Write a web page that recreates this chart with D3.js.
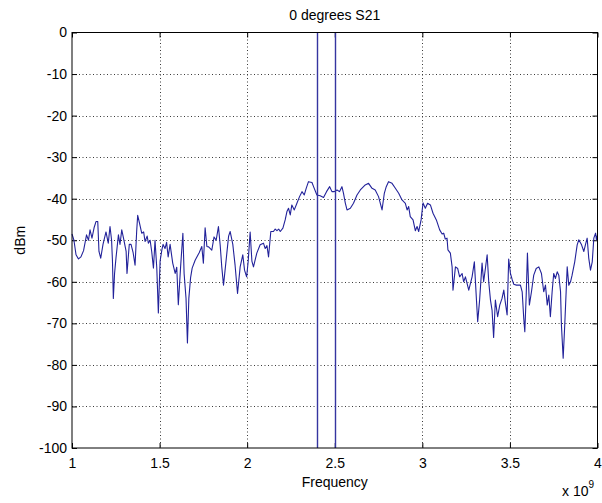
<!DOCTYPE html>
<html><head><meta charset="utf-8">
<script src="https://cdn.jsdelivr.net/npm/d3@7"></script>
<style>
body{margin:0;background:#fff}
svg text{font-family:"Liberation Sans",Arial,Helvetica,sans-serif;fill:#000}
</style>
</head><body>
<svg id="chart" width="602" height="503"></svg>
<script>
// Frequency in GHz (axis shown as x 10^9 Hz)
const freqGHz = [
1.000,1.011,1.023,1.037,1.051,1.066,1.083,1.094,1.103,1.114,1.126,1.137,1.147,1.154,1.164,1.177,1.194,1.207,1.217,1.226,
1.231,1.236,1.243,1.251,1.265,1.274,1.284,1.294,1.309,1.314,1.327,1.337,1.349,1.360,1.369,1.375,1.386,1.398,1.409,1.417,
1.429,1.436,1.446,1.455,1.465,1.474,1.484,1.493,1.503,1.513,1.520,1.531,1.540,1.549,1.560,1.575,1.589,1.598,1.607,1.620,
1.633,1.640,1.651,1.659,1.667,1.677,1.686,1.703,1.726,1.741,1.750,1.760,1.770,1.780,1.798,1.811,1.823,1.836,1.846,1.855,
1.865,1.884,1.894,1.903,1.918,1.931,1.945,1.960,1.975,1.985,1.997,2.006,2.017,2.027,2.036,2.055,2.074,2.093,2.103,2.113,
2.122,2.135,2.150,2.160,2.170,2.180,2.189,2.204,2.217,2.227,2.236,2.246,2.255,2.269,2.284,2.299,2.313,2.326,2.337,2.350,
2.370,2.379,2.398,2.417,2.436,2.453,2.471,2.484,2.497,2.513,2.527,2.541,2.550,2.560,2.570,2.589,2.607,2.627,2.646,2.660,
2.674,2.693,2.713,2.731,2.750,2.770,2.783,2.794,2.807,2.827,2.846,2.865,2.884,2.903,2.913,2.922,2.931,2.947,2.960,2.970,
2.979,2.993,3.004,3.017,3.030,3.046,3.061,3.080,3.099,3.113,3.122,3.131,3.141,3.146,3.160,3.170,3.175,3.189,3.202,3.213,
3.227,3.236,3.246,3.265,3.284,3.297,3.309,3.316,3.327,3.341,3.350,3.360,3.370,3.379,3.389,3.398,3.407,3.417,3.430,3.442,
3.455,3.465,3.474,3.484,3.493,3.503,3.513,3.522,3.537,3.560,3.570,3.579,3.585,3.593,3.600,3.611,3.623,3.636,3.650,3.665,
3.680,3.693,3.703,3.713,3.722,3.731,3.741,3.750,3.760,3.770,3.779,3.789,3.794,3.804,3.813,3.821,3.827,3.836,3.846,3.855,
3.870,3.884,3.893,3.909,3.922,3.931,3.941,3.950,3.960,3.970,3.979,3.989,3.994,4.000
];
const dBm = [
-48.5,-50.0,-53.5,-54.5,-54.0,-52.5,-48.7,-50.0,-47.5,-49.5,-47.0,-45.5,-45.5,-52.7,-54.3,-51.0,-48.0,-50.7,-46.7,-50.0,
-55.0,-64.0,-58.0,-54.3,-48.7,-51.0,-47.5,-49.5,-52.7,-58.0,-51.0,-51.0,-53.0,-56.0,-48.0,-44.0,-46.0,-48.3,-48.0,-50.3,
-49.0,-50.7,-50.0,-52.7,-56.7,-50.0,-56.7,-67.5,-55.0,-52.3,-51.0,-52.0,-50.5,-54.0,-51.0,-55.5,-58.0,-56.5,-65.5,-56.4,
-48.3,-58.0,-64.0,-74.7,-64.0,-59.0,-56.7,-54.8,-53.0,-51.5,-55.5,-47.0,-51.5,-51.6,-52.4,-49.2,-50.0,-46.7,-51.2,-56.4,
-60.8,-53.1,-49.0,-47.9,-51.0,-56.0,-62.8,-56.4,-53.5,-57.2,-58.8,-55.0,-48.0,-55.0,-56.4,-53.1,-51.1,-50.7,-52.0,-51.3,
-54.0,-47.9,-47.9,-47.3,-47.7,-47.3,-47.9,-47.1,-45.1,-43.1,-42.3,-43.9,-41.5,-42.7,-41.1,-39.5,-38.3,-39.1,-37.5,-35.9,
-36.1,-37.1,-39.1,-39.3,-39.7,-38.3,-37.1,-38.3,-38.3,-37.9,-38.3,-37.1,-38.7,-41.0,-42.7,-42.3,-41.1,-39.1,-37.9,-37.3,
-36.7,-36.3,-37.5,-37.9,-39.5,-42.7,-38.7,-37.1,-35.9,-36.3,-37.5,-38.7,-40.3,-41.1,-42.7,-41.9,-44.3,-45.1,-47.7,-46.7,
-47.9,-45.1,-41.0,-42.3,-41.1,-41.5,-43.5,-45.1,-47.5,-48.5,-48.3,-49.7,-49.5,-52.3,-53.1,-56.4,-62.0,-56.4,-56.8,-58.8,
-58.0,-60.0,-58.8,-62.0,-58.8,-55.2,-64.4,-69.6,-64.4,-55.5,-60.0,-56.8,-53.5,-60.0,-64.4,-66.8,-73.4,-64.4,-68.4,-65.6,
-64.0,-62.0,-65.0,-68.0,-54.5,-58.0,-59.5,-60.6,-60.8,-60.8,-62.4,-68.8,-72.0,-63.2,-53.1,-65.6,-62.4,-58.4,-56.8,-56.4,
-58.0,-62.4,-60.8,-65.6,-63.2,-68.4,-62.4,-58.0,-59.2,-57.6,-58.4,-62.4,-70.4,-78.4,-70.4,-62.4,-56.4,-60.8,-60.0,-58.4,
-55.2,-51.1,-49.9,-51.1,-52.7,-51.1,-49.5,-54.3,-57.2,-55.2,-49.5,-48.3,-49.9,-48.7
];
const markerGHz = [2.4, 2.5];
const xTicks = [1, 1.5, 2, 2.5, 3, 3.5, 4];
const xTickLabels = ["1", "1.5", "2", "2.5", "3", "3.5", "4"];
const yTicks = [-100, -90, -80, -70, -60, -50, -40, -30, -20, -10, 0];
const yTickLabels = ["-100", "-90", "-80", "-70", "-60", "-50", "-40", "-30", "-20", "-10", "0"];
const titleText = "0 degrees S21";
const xLabelText = "Frequency";
const yLabelText = "dBm";

const svg = d3.select("#chart");
const L = 72, R = 597.5, T = 32.5, B = 448;
const x = d3.scaleLinear().domain([1, 4]).range([L, R]);
const y = d3.scaleLinear().domain([-100, 0]).range([B, T]);
const px = v => Math.round(x(v)) + 0.5;
const py = v => Math.round(y(v)) + 0.5;

svg.append("rect").attr("width", 602).attr("height", 503).attr("fill", "#fff");

// grid
const grid = svg.append("g").attr("stroke", "#3a3a3a").attr("stroke-width", 1).attr("stroke-dasharray", "1,2.5");
grid.selectAll("line.gx").data(xTicks.slice(1, -1)).join("line").attr("class", "gx")
  .attr("x1", px).attr("x2", px).attr("y1", T).attr("y2", B);
grid.selectAll("line.gy").data(yTicks.slice(1, -1)).join("line").attr("class", "gy")
  .attr("y1", py).attr("y2", py).attr("x1", L).attr("x2", R);

// axes (inward ticks on all four sides)
const fmtX = d => xTickLabels[xTicks.indexOf(d)];
const fmtY = d => yTickLabels[yTicks.indexOf(d)];
const ax = svg.append("g").attr("transform", `translate(0,${B})`)
  .call(d3.axisBottom(x).tickValues(xTicks).tickFormat(fmtX).tickSize(-5).tickSizeOuter(0).tickPadding(10));
const at = svg.append("g").attr("transform", `translate(0,${T})`)
  .call(d3.axisTop(x).tickValues(xTicks).tickFormat("").tickSize(-5).tickSizeOuter(0));
const al = svg.append("g").attr("transform", `translate(${L},0)`)
  .call(d3.axisLeft(y).tickValues(yTicks).tickFormat(fmtY).tickSize(-5).tickSizeOuter(0).tickPadding(5));
const ar = svg.append("g").attr("transform", `translate(${R},0)`)
  .call(d3.axisRight(y).tickValues(yTicks).tickFormat("").tickSize(-5).tickSizeOuter(0));
[ax, at, al, ar].forEach(g => {
  g.select(".domain").remove();
  g.selectAll("line").attr("stroke", "#000");
  g.selectAll("text").attr("font-size", 14).attr("font-family", '"Liberation Sans",Arial,sans-serif').attr("fill", "#000");
});

// data line
const line = d3.line().x((d, i) => x(freqGHz[i])).y(d => y(d));
svg.append("path").datum(dBm).attr("d", line)
  .attr("fill", "none").attr("stroke", "#22229a").attr("stroke-width", 1.1).attr("stroke-linejoin", "round");

// marker lines
svg.selectAll("line.mk").data(markerGHz).join("line").attr("class", "mk")
  .attr("x1", px).attr("x2", px).attr("y1", T).attr("y2", B)
  .attr("stroke", "#3535a0").attr("stroke-width", 1.4);

// box
svg.append("rect").attr("x", L).attr("y", T).attr("width", R - L).attr("height", B - T)
  .attr("fill", "none").attr("stroke", "#000").attr("stroke-width", 1);

// labels
svg.append("text").attr("x", (L + R) / 2).attr("y", 20).attr("text-anchor", "middle")
  .attr("font-size", 14).text(titleText);
svg.append("text").attr("x", (L + R) / 2).attr("y", 487).attr("text-anchor", "middle")
  .attr("font-size", 14).text(xLabelText);
svg.append("text").attr("transform", `translate(25,${(T + B) / 2}) rotate(-90)`).attr("text-anchor", "middle")
  .attr("font-size", 14).text(yLabelText);
const exp = svg.append("text").attr("x", 562).attr("y", 496).attr("font-size", 14);
exp.append("tspan").text("x 10");
exp.append("tspan").attr("font-size", 10).attr("dy", -8).text("9");
</script>
</body></html>
